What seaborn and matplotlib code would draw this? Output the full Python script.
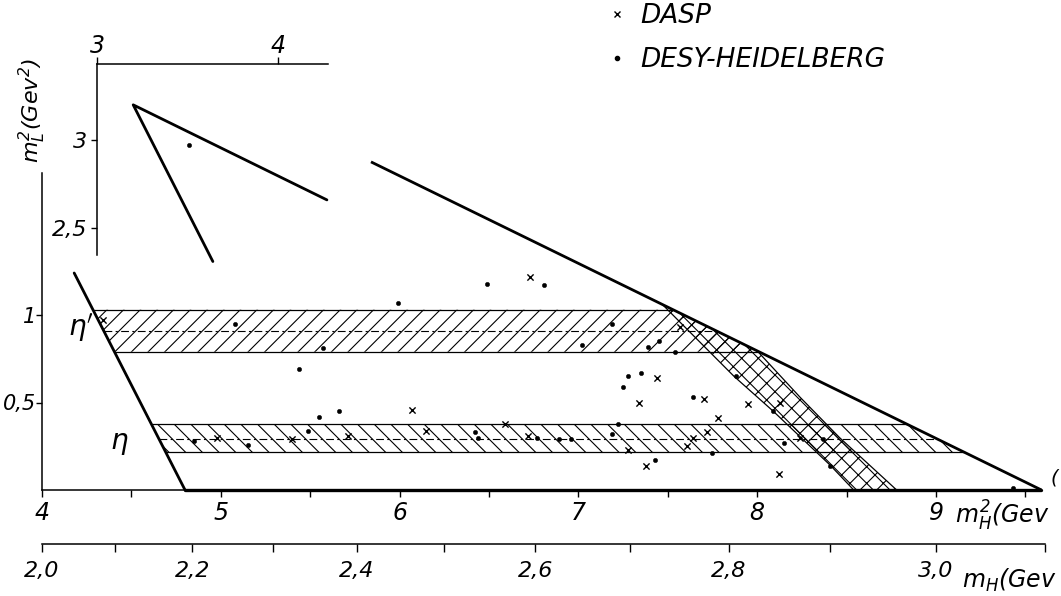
import numpy as np
import pandas as pd
import matplotlib
matplotlib.use("Agg")
import matplotlib.pyplot as plt
from matplotlib.lines import Line2D
import seaborn as sns

sns.set_theme(style="ticks")
plt.rcParams["font.family"] = ["DejaVu Sans"]
plt.rcParams["font.style"] = "italic"
plt.rcParams["mathtext.fontset"] = "dejavusans"
plt.rcParams["hatch.linewidth"] = 0.8
plt.rcParams["text.color"] = "black"
plt.rcParams["xtick.color"] = "black"
plt.rcParams["ytick.color"] = "black"
plt.rcParams["axes.edgecolor"] = "black"

# ---- kinematic boundary of the Dalitz region (m_H^2, m_L^2) in GeV^2 ----
upper_edge_x = [5.84, 9.59]
upper_edge_y = [1.875, 0.0]
left_edge_x = [4.18, 4.80]
left_edge_y = [1.24, 0.0]
floor_x = [4.80, 9.59]
floor_y = [0.0, 0.0]
# upper corner of the region, shown in the inset
corner_x = [4.27, 3.20, 3.64]
corner_y = [2.66, 3.20, 2.31]

# ---- resonance bands in m_L^2: (low, centre, high) ----
eta_band = [0.215, 0.29, 0.375]
etap_band = [0.79, 0.91, 1.03]

# ---- crossing band (cross-hatched) ----
cross_left_x = [7.47, 7.87, 8.09, 8.41, 8.54]
cross_left_y = [1.06, 0.65, 0.45, 0.14, 0.0]
cross_right_x = [8.00, 8.24, 8.46, 8.78]
cross_right_y = [0.795, 0.53, 0.30, 0.0]

# ---- events ----
dasp_x = [4.34, 4.98, 6.07, 5.40, 5.71, 6.15, 6.73, 7.44, 7.34, 6.59, 6.72, 7.28,
          7.38, 7.57, 7.70, 7.95, 7.78, 8.13, 7.72, 7.64, 7.61, 8.12, 8.24]
dasp_y = [0.97, 0.30, 0.46, 0.29, 0.31, 0.34, 1.22, 0.64, 0.50, 0.38, 0.31, 0.23,
          0.14, 0.93, 0.52, 0.49, 0.41, 0.50, 0.33, 0.30, 0.25, 0.09, 0.30]
desy_x = [5.08, 4.85, 5.15, 5.99, 5.57, 5.44, 5.55, 5.66, 5.49, 6.49, 6.81, 7.19,
          7.02, 7.39, 7.45, 7.28, 7.35, 7.25, 6.42, 6.44, 6.77, 6.89, 6.96, 7.22,
          7.19, 7.43, 7.54, 7.88, 7.64, 8.09, 7.75, 8.15, 8.37, 8.41, 9.43]
desy_y = [0.95, 0.28, 0.26, 1.07, 0.81, 0.69, 0.42, 0.45, 0.34, 1.18, 1.17, 0.95,
          0.83, 0.82, 0.85, 0.65, 0.67, 0.59, 0.33, 0.30, 0.30, 0.29, 0.29, 0.38,
          0.32, 0.17, 0.79, 0.65, 0.53, 0.45, 0.21, 0.27, 0.29, 0.14, 0.01]
desy_inset_x = [3.51]
desy_inset_y = [2.97]

# ---- axis ticks ----
mh2_major = [4, 5, 6, 7, 8, 9]
mh2_minor = [4.5, 5.5, 6.5, 7.5, 8.5, 9.5]
ml2_ticks = [0.5, 1.0]
ml2_labels = ["0,5", "1"]
mh_major = [2.0, 2.2, 2.4, 2.6, 2.8, 3.0]
mh_labels = ["2,0", "2,2", "2,4", "2,6", "2,8", "3,0"]
mh_minor = [2.1, 2.3, 2.5, 2.7, 2.9, 3.1]
inset_x_ticks = [3, 4]
inset_y_ticks = [2.5, 3.0]
inset_y_labels = ["2,5", "3"]

W, H = 1061, 596
fig = plt.figure(figsize=(W / 100, H / 100), dpi=100)


def frac_box(x0, y0, x1, y1):
    """Pixel box (top-left origin) -> figure fraction rectangle."""
    return [x0 / W, 1 - y1 / H, (x1 - x0) / W, (y1 - y0) / H]


LW_EDGE = 2.0
LW_THIN = 0.9

# ---------------- main panel ----------------
ax = fig.add_axes(frac_box(42, 157.5, 1052.2, 490))
ax.set_xlim(4, 9.65)
ax.set_ylim(0, 1.9)
ax.patch.set_visible(False)
for s in ["top", "right"]:
    ax.spines[s].set_visible(False)
ax.spines["bottom"].set_bounds(4, 9.59)
ax.spines["left"].set_bounds(0, 1.81)
for s in ["bottom", "left"]:
    ax.spines[s].set_linewidth(1.1)

ax.set_xticks(mh2_major)
ax.set_xticklabels([str(v) for v in mh2_major], fontsize=17)
ax.set_xticks(mh2_minor, minor=True)
ax.set_yticks(ml2_ticks)
ax.set_yticklabels(ml2_labels, fontsize=15)
ax.tick_params(axis="x", which="both", direction="out", length=5, width=1.0,
               pad=3, bottom=True)
ax.tick_params(axis="y", which="both", direction="out", length=4, width=1.0,
               pad=0, left=True)
ax.set_xlabel("")
ax.set_ylabel("")


def left_x(y):
    return np.interp(y, left_edge_y[::-1], left_edge_x[::-1])


def upper_x(y):
    return np.interp(y, upper_edge_y[::-1], upper_edge_x[::-1])


def draw_band(band, hatch):
    lo, mid, hi = band
    xs = [left_x(lo), upper_x(lo), upper_x(hi), left_x(hi)]
    ys = [lo, lo, hi, hi]
    ax.fill(xs, ys, facecolor="none", edgecolor="black", hatch=hatch, linewidth=0)
    for yv in (lo, hi):
        ax.plot([left_x(yv), upper_x(yv)], [yv, yv], color="black", lw=LW_THIN)
    ax.plot([left_x(mid), upper_x(mid)], [mid, mid], color="black", lw=0.8,
            linestyle=(0, (7, 3, 2, 3)))


draw_band(etap_band, "//")
draw_band(eta_band, "\\\\")

# cross-hatched crossing band
cx = cross_left_x + cross_right_x[::-1]
cy = cross_left_y + cross_right_y[::-1]
ax.fill(cx, cy, facecolor="none", edgecolor="black", hatch="xx", linewidth=0)
ax.plot(cross_left_x, cross_left_y, color="black", lw=LW_THIN)
ax.plot(cross_right_x, cross_right_y, color="black", lw=LW_THIN)

# kinematic boundary
ax.plot(upper_edge_x, upper_edge_y, color="black", lw=LW_EDGE, clip_on=False,
        solid_capstyle="butt")
ax.plot(left_edge_x, left_edge_y, color="black", lw=LW_EDGE, clip_on=False)
ax.plot(floor_x, floor_y, color="black", lw=2.4, clip_on=False)

# events
dasp = pd.DataFrame({"mH2": dasp_x, "mL2": dasp_y})
desy = pd.DataFrame({"mH2": desy_x, "mL2": desy_y})
sns.scatterplot(data=dasp, x="mH2", y="mL2", marker="x", s=20, color="black",
                linewidth=1.0, ax=ax, legend=False, zorder=5)
sns.scatterplot(data=desy, x="mH2", y="mL2", marker="o", s=10, color="black",
                edgecolor="black", linewidth=0.3, ax=ax, legend=False, zorder=5)
ax.set_xlabel("")
ax.set_ylabel("")

ax.text(4.22, 0.93, r"$\eta'$", fontsize=20, ha="center", va="center")
ax.text(4.43, 0.27, r"$\eta$", fontsize=20, ha="center", va="center")

# ---------------- second scale: m_H ----------------
ax_m = fig.add_axes(frac_box(42, 543, 1052.2, 544))
ax_m.set_xlim(ax.get_xlim())
ax_m.set_ylim(0, 1)
ax_m.patch.set_visible(False)
for s in ["top", "left", "right"]:
    ax_m.spines[s].set_visible(False)
ax_m.spines["bottom"].set_bounds(4.0, np.square(mh_minor[-1]))
ax_m.spines["bottom"].set_linewidth(1.1)
ax_m.set_yticks([])
ax_m.set_xticks(np.square(mh_major))
ax_m.set_xticklabels(mh_labels, fontsize=16)
ax_m.set_xticks(np.square(mh_minor), minor=True)
ax_m.tick_params(axis="x", which="both", direction="out", length=6, width=1.0,
                 pad=6, bottom=True)

# ---------------- inset: upper corner ----------------
axi = fig.add_axes(frac_box(97, 64, 328, 255))
axi.set_xlim(3, 4.276)
axi.set_ylim(2.347, 3.432)
axi.patch.set_visible(False)
for s in ["bottom", "right"]:
    axi.spines[s].set_visible(False)
for s in ["top", "left"]:
    axi.spines[s].set_linewidth(1.1)
axi.xaxis.set_ticks_position("top")
axi.set_xticks(inset_x_ticks)
axi.set_xticklabels([str(v) for v in inset_x_ticks], fontsize=17)
axi.set_yticks(inset_y_ticks)
axi.set_yticklabels(inset_y_labels, fontsize=16)
axi.tick_params(axis="x", which="both", direction="out", length=5, width=1.0,
                pad=-1, top=True, bottom=False)
axi.tick_params(axis="y", which="both", direction="out", length=4, width=1.0,
                pad=3, left=True)
axi.plot(corner_x, corner_y, color="black", lw=LW_EDGE, clip_on=False)
sns.scatterplot(x=desy_inset_x, y=desy_inset_y, marker="o", s=10, color="black",
                edgecolor="black", linewidth=0.3, ax=axi, legend=False)

# ---------------- labels ----------------
fig.text(32 / W, 1 - 110 / H, r"$m^2_L$(Gev$^2$)", rotation=90, ha="center",
         va="center", fontsize=16)
fig.text(955 / W, 1 - 516 / H, r"$m^2_H$(Gev", ha="left", va="center", fontsize=17)
fig.text(1051 / W, 1 - 478 / H, "(", ha="left", va="center", fontsize=14)
fig.text(962 / W, 1 - 580 / H, r"$m_H$(Gev", ha="left", va="center", fontsize=17)

handles = [
    Line2D([], [], marker="x", color="black", linestyle="none", markersize=5,
           markeredgewidth=1.0),
    Line2D([], [], marker="o", color="black", linestyle="none", markersize=3),
]
fig.legend(handles, ["DASP", "DESY-HEIDELBERG"], loc="upper left",
           bbox_to_anchor=(606 / W, 1 - 3 / H), frameon=False,
           prop=dict(style="italic", size=19), handlelength=0.8,
           handletextpad=0.5, labelspacing=0.7, borderpad=0, borderaxespad=0)

fig.savefig("out.png", dpi=100)
